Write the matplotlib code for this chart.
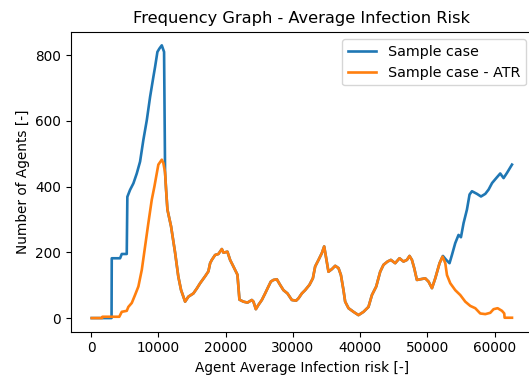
import numpy as np
import matplotlib
matplotlib.use("Agg")
import matplotlib.pyplot as plt

#------------------------------------
# Data
# "Sample case - ATR" (orange)
atr_x = [100, 1650, 1700, 4200, 4570, 5310, 5550, 6060, 6540, 7040, 7550, 8030,
         8530, 9030, 9420, 9780, 10010, 10520, 10750, 11010, 11160, 11360, 11900,
         12500, 12980, 13390, 13990, 14470, 15220, 15730, 16220, 16960, 17450,
         17710, 17960, 18450, 18940, 19450, 19690, 20280, 20680, 21170, 21770,
         22070, 22660, 23260, 23910, 24150, 24510, 24890, 25400, 25890, 26380,
         26740, 27130, 27630, 28120, 28610, 29210, 29860, 30500, 30850, 31350,
         31840, 32480, 32990, 33330, 33830, 34330, 34670, 34970, 35310, 35820,
         36310, 36800, 37160, 37540, 37790, 38290, 39030, 39770, 40520, 41260,
         41770, 42410, 43000, 43490, 44090, 44590, 45230, 45870, 46470, 46980,
         47360, 47720, 48060, 48460, 48960, 49700, 50190, 50700, 51190, 51830,
         52270, 52680, 52930, 53420, 54160, 54910, 55650, 56400, 57140, 57880,
         58630, 59370, 59860, 60460, 61110, 61450, 61500, 62600]
atr_y = [0, 0, 4, 4, 19, 22, 34, 46, 70, 96, 147, 217,
         290, 360, 400, 441, 467, 482, 472, 443, 391, 330, 279,
         199, 126, 85, 50, 65, 75, 90, 106, 127, 142,
         167, 177, 192, 195, 210, 199, 202, 177, 157, 132,
         56, 50, 47, 55, 50, 27, 40, 55, 75, 96,
         111, 116, 118, 101, 85, 75, 55, 53, 60, 75,
         85, 101, 121, 157, 177, 198, 218, 182, 141, 149,
         159, 152, 131, 85, 50, 30, 19, 9, 19, 34,
         70, 96, 141, 162, 172, 177, 167, 182, 172, 177,
         189, 177, 152, 116, 118, 121, 111, 91, 121, 167,
         187, 167, 131, 106, 85, 70, 50, 37, 30, 14,
         12, 16, 27, 30, 22, 14, 1, 1]

# "Sample case" (blue): early part, shared middle with ATR, late part
base_early_x = [100, 3050, 3080, 4320, 4570, 5310, 5400, 5800, 6300, 6800, 7290,
                7780, 8290, 8780, 9270, 9520, 9870, 10160, 10520, 10860, 11010]
base_early_y = [0, 0, 182, 182, 195, 195, 369, 390, 410, 440, 476,
                542, 602, 673, 734, 764, 810, 820, 830, 810, 443]
base_late_x = [52330, 52820, 53310, 53670, 54160, 54650, 55010, 55400, 55900,
               56290, 56650, 57390, 57990, 58630, 59120, 59640, 60260, 60850,
               61350, 61860, 62600]
base_late_y = [189, 177, 167, 192, 228, 253, 246, 289, 330,
               376, 386, 378, 370, 378, 391, 411, 426, 440,
               426, 442, 467]

atr_x = np.array(atr_x)
atr_y = np.array(atr_y)
mid = (atr_x > 11010) & (atr_x < 52330)
base_x = np.concatenate([base_early_x, atr_x[mid], base_late_x])
base_y = np.concatenate([base_early_y, atr_y[mid], base_late_y])

#------------------------------------
# Visualisation
fig = plt.figure(figsize=(5.29, 3.76), dpi=100)
ax = fig.add_axes([70.7 / 529, 44.3 / 376, 462.3 / 529, 300 / 376])

ax.plot(base_x, base_y, lw=1.9, label="Sample case")
ax.plot(atr_x, atr_y, lw=1.9, label="Sample case - ATR")

ax.set_xticks([0, 10000, 20000, 30000, 40000, 50000, 60000])
ax.set_yticks([0, 200, 400, 600, 800])
ax.tick_params(labelsize=9.8)
ax.set_xlabel("Agent Average Infection risk [-]", fontsize=9.8)
ax.set_ylabel("Number of Agents [-]", fontsize=9.8)
ax.set_title("Frequency Graph - Average Infection Risk", fontsize=11.7)
ax.legend(loc="upper right", fontsize=10.3)

fig.savefig("out.png", dpi=100)
